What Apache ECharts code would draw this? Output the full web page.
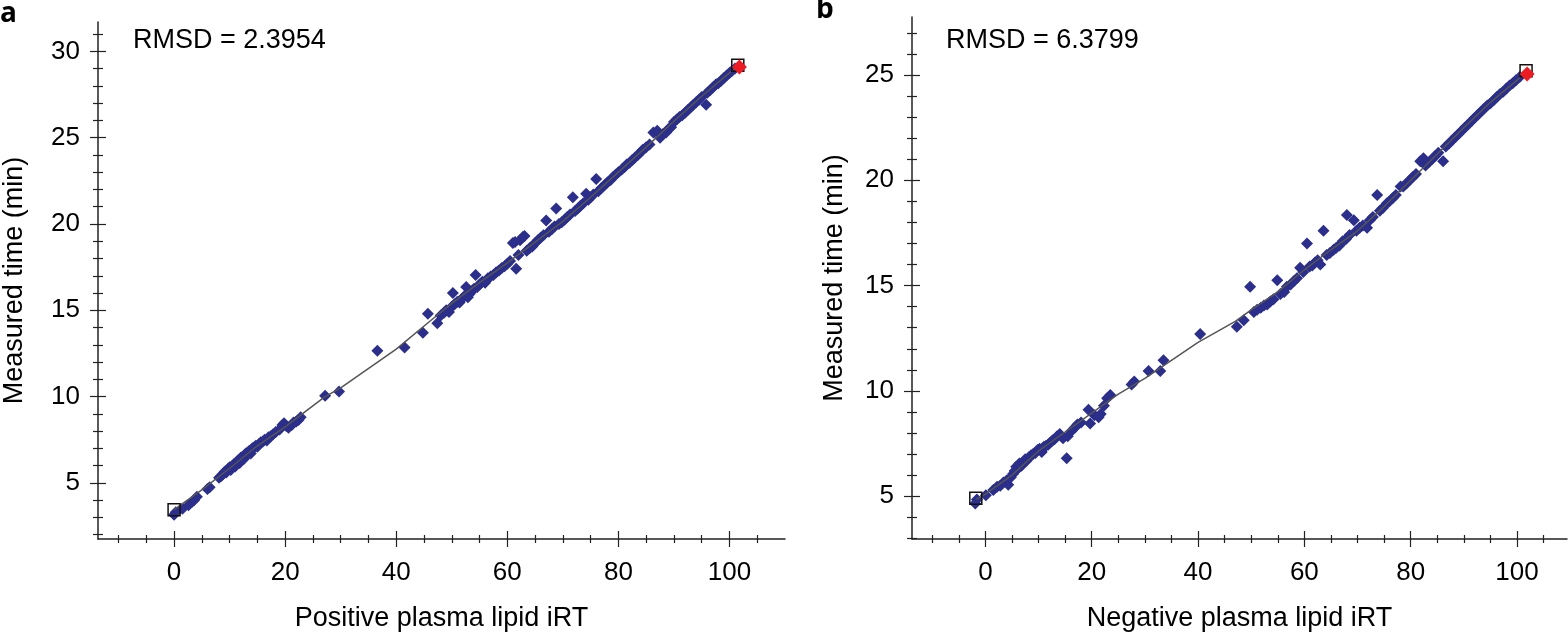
<!DOCTYPE html>
<html>
<head>
<meta charset="utf-8">
<script src="https://cdn.jsdelivr.net/npm/echarts@6/dist/echarts.min.js"></script>
<style>
html,body{margin:0;padding:0;background:#fff;}
#chart{width:1568px;height:632px;}
</style>
</head>
<body>
<div id="chart"></div>
<script>
// ---------- DATA ----------
const xTickValues = [0, 20, 40, 60, 80, 100];
const posYTickValues = [5, 10, 15, 20, 25, 30];
const negYTickValues = [5, 10, 15, 20, 25];

const posRmsd = 'RMSD = 2.3954';
const negRmsd = 'RMSD = 6.3799';

// Panel a: Positive plasma lipid iRT vs measured time (min)
const posPoints = [
  [0,3.15],[0.3,3.3],[1.5,3.5],[2.6,3.7],[3.2,3.9],[3.6,4.0],[4.1,4.2],[6.0,4.65],[6.4,4.75],
  [8.1,5.3],[8.5,5.4],[8.8,5.5],[9.1,5.65],[9.4,5.6],[9.7,5.8],[10.0,5.9],[10.2,5.75],
  [10.5,6.0],[10.8,6.1],[11.0,5.95],[11.2,6.2],[11.5,6.3],[11.8,6.15],[12.0,6.45],[12.3,6.5],
  [12.6,6.4],[12.9,6.7],[13.2,6.75],[13.5,6.85],[13.8,6.7],[14.1,7.0],[14.4,7.05],[14.7,7.15],
  [15.0,7.1],[15.3,7.25],[15.6,7.35],[16.0,7.4],[16.3,7.5],[16.7,7.45],[17.0,7.65],[17.4,7.7],
  [17.8,7.8],[18.3,7.95],[19.0,8.1],[19.5,8.35],[19.8,8.45],[20.2,8.3],[20.6,8.2],[21.2,8.35],
  [21.5,8.5],[22.0,8.55],[22.4,8.65],[22.8,8.8],
  [27.2,10.05],[29.7,10.3],[36.6,12.65],[41.5,12.85],[44.8,13.7],[45.7,14.8],[47.4,14.25],
  [48.0,14.7],[48.6,14.85],[49.0,15.0],[49.5,14.9],[50.0,15.2],[50.2,16.0],[50.5,15.35],[51.0,15.5],
  [51.4,15.45],[51.8,15.65],[52.2,15.8],[52.6,16.35],[52.9,15.75],[53.2,15.95],[53.6,16.1],[54.0,16.25],
  [54.3,17.05],[54.6,16.35],[55.0,16.5],[55.5,16.65],[56.0,16.6],[56.5,16.85],[57.0,16.95],[57.5,17.05],
  [58.0,17.2],[58.5,17.3],[59.0,17.45],[59.5,17.55],[60.0,17.7],[60.5,17.85],[61.0,18.9],[61.4,18.95],
  [61.6,17.4],[62.0,18.2],[62.3,19.05],[62.8,19.25],[63.1,19.3],[63.5,18.45],[64.0,18.6],[64.5,18.7],
  [65.0,18.9],[65.5,19.05],[66.0,19.2],[66.5,19.35],[67.0,20.2],[67.5,19.55],[68.0,19.7],[68.5,19.85],
  [68.8,20.9],[69.3,20.0],[69.8,20.1],[70.3,20.25],[70.8,20.4],[71.3,20.55],[71.8,21.55],[72.2,20.75],
  [72.7,20.9],[73.2,21.05],[73.7,21.2],[74.2,21.75],[74.6,21.4],[75.0,21.55],[75.5,21.7],[76.0,22.6],
  [76.4,21.9],[77.0,22.1],[77.5,22.25],[78.0,22.4],[78.6,22.55],[79.0,22.7],[79.5,22.85],[80.0,23.0],
  [80.6,23.15],[81.1,23.3],[81.5,23.45],[82.0,23.55],[82.5,23.7],[83.0,23.85],[83.5,24.0],[84.0,24.15],
  [84.4,24.3],[85.0,24.45],[85.6,24.6],[86.3,25.3],[87.0,25.4],[87.5,25.0],[88.0,25.2],[88.6,25.3],
  [89.0,25.5],[89.5,25.6],[90.0,25.9],[90.5,26.05],[91.0,26.2],[91.5,26.3],[92.0,26.45],[92.5,26.6],
  [93.0,26.75],[93.5,26.9],[94.0,27.05],[94.5,27.2],[95.0,27.35],[95.8,26.9],[96.0,27.6],[96.5,27.75],
  [97.0,27.9],[97.6,28.1],[98.0,28.15],[98.5,28.3],[99.0,28.45],[99.5,28.6],[100.0,28.75],[100.4,28.85],
  [101.0,29.0]
];
const posFit = [
  [0,3.45],[5,4.6],[10,5.85],[15,7.15],[20,8.25],[27,9.95],[30,10.5],[40,12.75],[46,14.35],[50,15.4],
  [55,16.6],[60,17.75],[65,18.95],[70,20.15],[75,21.55],[80,23.0],[85,24.45],[90,25.95],[95,27.4],
  [100,28.75],[101.7,29.2]
];
const posAnchors = [[0,3.45],[101.5,29.2]];
const posCalibrant = [[101.8,29.1]];

// Panel b: Negative plasma lipid iRT vs measured time (min)
const negPoints = [
  [-1.9,4.65],[-1.6,4.85],[0.1,5.05],[1.5,5.3],[2.2,5.45],[2.8,5.5],[3.4,5.65],[4.0,5.75],[4.3,5.55],
  [4.8,5.9],[5.2,6.05],[5.5,6.2],[5.8,6.4],[6.1,6.3],[6.4,6.55],[6.8,6.45],[7.1,6.6],[7.5,6.75],
  [7.8,6.7],[8.2,6.85],[8.6,6.95],[9.0,7.0],[9.4,7.05],[9.8,7.2],[10.2,7.25],[10.6,7.1],[11.0,7.35],
  [11.4,7.4],[11.8,7.45],[12.2,7.55],[12.6,7.65],[13.0,7.7],[13.5,7.85],[14.0,7.95],[14.6,7.75],
  [15.3,6.8],[15.5,7.85],[16.2,8.1],[16.8,8.25],[17.3,8.4],[18.0,8.5],[19.4,9.1],[19.7,8.45],
  [20.5,8.85],[21.3,8.75],[21.7,8.9],[22.3,9.3],[22.9,9.65],[23.5,9.8],[27.5,10.3],[28.0,10.45],
  [30.7,10.95],[32.9,10.95],[33.5,11.45],[40.4,12.7],[47.3,13.05],[48.6,13.35],[49.8,14.95],
  [50.5,13.75],[51.1,13.85],[51.8,13.95],[52.4,14.05],[53.0,14.1],[53.6,14.25],[54.2,14.35],[54.9,15.25],
  [55.5,14.6],[56.2,14.7],[56.7,14.95],[57.4,15.05],[58.0,15.2],[58.6,15.35],[59.2,15.85],[59.8,15.65],
  [60.5,17.0],[61.0,15.9],[61.5,15.95],[62.0,16.1],[62.5,16.2],[63.0,16.0],[63.6,17.6],[64.2,16.45],
  [64.8,16.55],[65.5,16.7],[66.0,16.8],[66.6,16.9],[67.2,17.1],[67.8,17.2],[68.0,18.35],[68.5,17.4],
  [69.3,18.1],[69.8,17.6],[70.4,17.75],[71.0,17.85],[71.8,17.75],[72.3,18.1],[72.9,18.25],[73.7,19.3],
  [74.2,18.55],[74.8,18.7],[75.5,18.9],[76.0,19.0],[76.6,19.15],[77.2,19.3],[78.1,19.7],[78.6,19.7],
  [79.2,19.85],[79.8,20.0],[80.4,20.15],[81.0,20.3],[81.8,20.9],[82.4,21.05],[82.8,20.7],[83.4,20.85],
  [84.0,21.0],[84.6,21.15],[85.2,21.3],[86.1,20.9],[86.6,21.6],[87.2,21.75],[87.8,21.9],[88.4,22.05],
  [89.0,22.2],[89.6,22.35],[90.2,22.5],[90.8,22.65],[91.4,22.8],[92.0,22.95],[92.6,23.1],[93.2,23.25],
  [93.8,23.4],[94.4,23.55],[95.0,23.65],[95.6,23.8],[96.2,23.95],[96.8,24.1],[97.4,24.2],[98.0,24.35],
  [98.6,24.5],[99.2,24.6],[99.8,24.75],[100.5,24.9]
];
const negFit = [
  [-1.7,4.85],[0,5.1],[5,6.0],[10,7.15],[15,8.05],[20,8.95],[25,9.85],[30,10.6],[40,12.3],[47,13.3],
  [50,13.85],[55,14.7],[60,15.75],[65,16.7],[70,17.6],[75,18.75],[80,20.0],[85,21.25],[90,22.5],
  [95,23.7],[100,24.75],[101.7,25.15]
];
const negAnchors = [[-1.8,4.9],[101.7,25.2]];
const negCalibrant = [[101.9,25.05]];

// ---------- STYLE / LAYOUT ----------
const FONT = 'Liberation Sans, Arial, Helvetica, sans-serif';
const AX = '#222';
const BLUE = '#2b2e8a';
const RED = '#ec1c24';

function xAxisPair(gridIndex, min, max, name) {
  const common = {
    type: 'value', gridIndex, min, max, position: 'bottom',
    splitLine: {show: false},
    minorSplitLine: {show: false},
    axisLine: {show: true, onZero: false, lineStyle: {color: AX, width: 1.5}},
    minorTick: {show: true, splitNumber: 4, length: 4, lineStyle: {color: AX, width: 1.2}}
  };
  return [
    Object.assign({}, common, {
      name, nameLocation: 'middle', nameGap: 66,
      nameTextStyle: {fontFamily: FONT, fontSize: 27, color: '#000'},
      axisTick: {show: true, inside: false, length: 8, customValues: xTickValues, lineStyle: {color: AX, width: 1.2}},
      axisLabel: {show: true, margin: 21, customValues: xTickValues, fontFamily: FONT, fontSize: 26, color: '#000'}
    }),
    Object.assign({}, common, {
      axisLine: {show: false, onZero: false},
      axisTick: {show: true, inside: true, length: 8, customValues: xTickValues, lineStyle: {color: AX, width: 1.2}},
      axisLabel: {show: false}
    })
  ];
}

function yAxisPair(gridIndex, min, max, ticks, name, gap) {
  const common = {
    type: 'value', gridIndex, min, max, position: 'left',
    splitLine: {show: false},
    minorSplitLine: {show: false},
    axisLine: {show: true, onZero: false, lineStyle: {color: AX, width: 1.5}},
    minorTick: {show: true, splitNumber: 5, length: 5, lineStyle: {color: AX, width: 1.2}}
  };
  return [
    Object.assign({}, common, {
      name, nameLocation: 'middle', nameGap: gap, nameRotate: 90,
      nameTextStyle: {fontFamily: FONT, fontSize: 27, color: '#000'},
      axisTick: {show: true, inside: false, length: 8, customValues: ticks, lineStyle: {color: AX, width: 1.2}},
      axisLabel: {show: true, margin: 18, customValues: ticks, fontFamily: FONT, fontSize: 26, color: '#000'}
    }),
    Object.assign({}, common, {
      axisLine: {show: false, onZero: false},
      axisTick: {show: true, inside: true, length: 8, customValues: ticks, lineStyle: {color: AX, width: 1.2}},
      axisLabel: {show: false}
    })
  ];
}

function panelSeries(xi, yi, pts, fit, anchors, calib) {
  return [
    {type: 'scatter', xAxisIndex: xi, yAxisIndex: yi, data: pts, symbol: 'diamond', symbolSize: 12,
     itemStyle: {color: BLUE, opacity: 1}, z: 2, silent: true},
    {type: 'line', xAxisIndex: xi, yAxisIndex: yi, data: fit, showSymbol: false, symbol: 'none',
     lineStyle: {color: '#555', width: 1.5}, z: 3, silent: true},
    {type: 'scatter', xAxisIndex: xi, yAxisIndex: yi, data: anchors, symbol: 'rect', symbolSize: 12,
     itemStyle: {color: 'rgba(0,0,0,0)', borderColor: '#111', borderWidth: 1.5, opacity: 1}, z: 4, silent: true},
    {type: 'scatter', xAxisIndex: xi, yAxisIndex: yi, data: calib, symbol: 'diamond', symbolSize: 15,
     itemStyle: {color: RED, opacity: 1}, z: 5, silent: true}
  ];
}

const chart = echarts.init(document.getElementById('chart'), null, {renderer: 'canvas'});
chart.setOption({
  animation: false,
  backgroundColor: '#fff',
  grid: [
    {left: 98, top: 22, width: 687, height: 517, containLabel: false, outerBoundsMode: 'none'},
    {left: 912, top: 17, width: 655, height: 522, containLabel: false, outerBoundsMode: 'none'}
  ],
  xAxis: [].concat(
    xAxisPair(0, -13.7, 110, 'Positive plasma lipid iRT'),
    xAxisPair(1, -13.8, 109.4, 'Negative plasma lipid iRT')
  ),
  yAxis: [].concat(
    yAxisPair(0, 1.75, 31.7, posYTickValues, 'Measured time (min)', 70),
    yAxisPair(1, 2.97, 27.75, negYTickValues, 'Measured time (min)', 64)
  ),
  series: [].concat(
    panelSeries(0, 0, posPoints, posFit, posAnchors, posCalibrant),
    panelSeries(2, 2, negPoints, negFit, negAnchors, negCalibrant)
  ),
  graphic: [
    {type: 'text', left: 0, top: 0, style: {text: 'a', font: 'bold 28px "Open Sans", sans-serif', fill: '#000'}},
    {type: 'text', left: 816, top: -4, style: {text: 'b', font: 'bold 28px "Open Sans", sans-serif', fill: '#000'}},
    {type: 'text', left: 133, top: 27, style: {text: posRmsd, font: '27px ' + FONT, fill: '#000'}},
    {type: 'text', left: 946, top: 27, style: {text: negRmsd, font: '27px ' + FONT, fill: '#000'}}
  ]
});
</script>
</body>
</html>
